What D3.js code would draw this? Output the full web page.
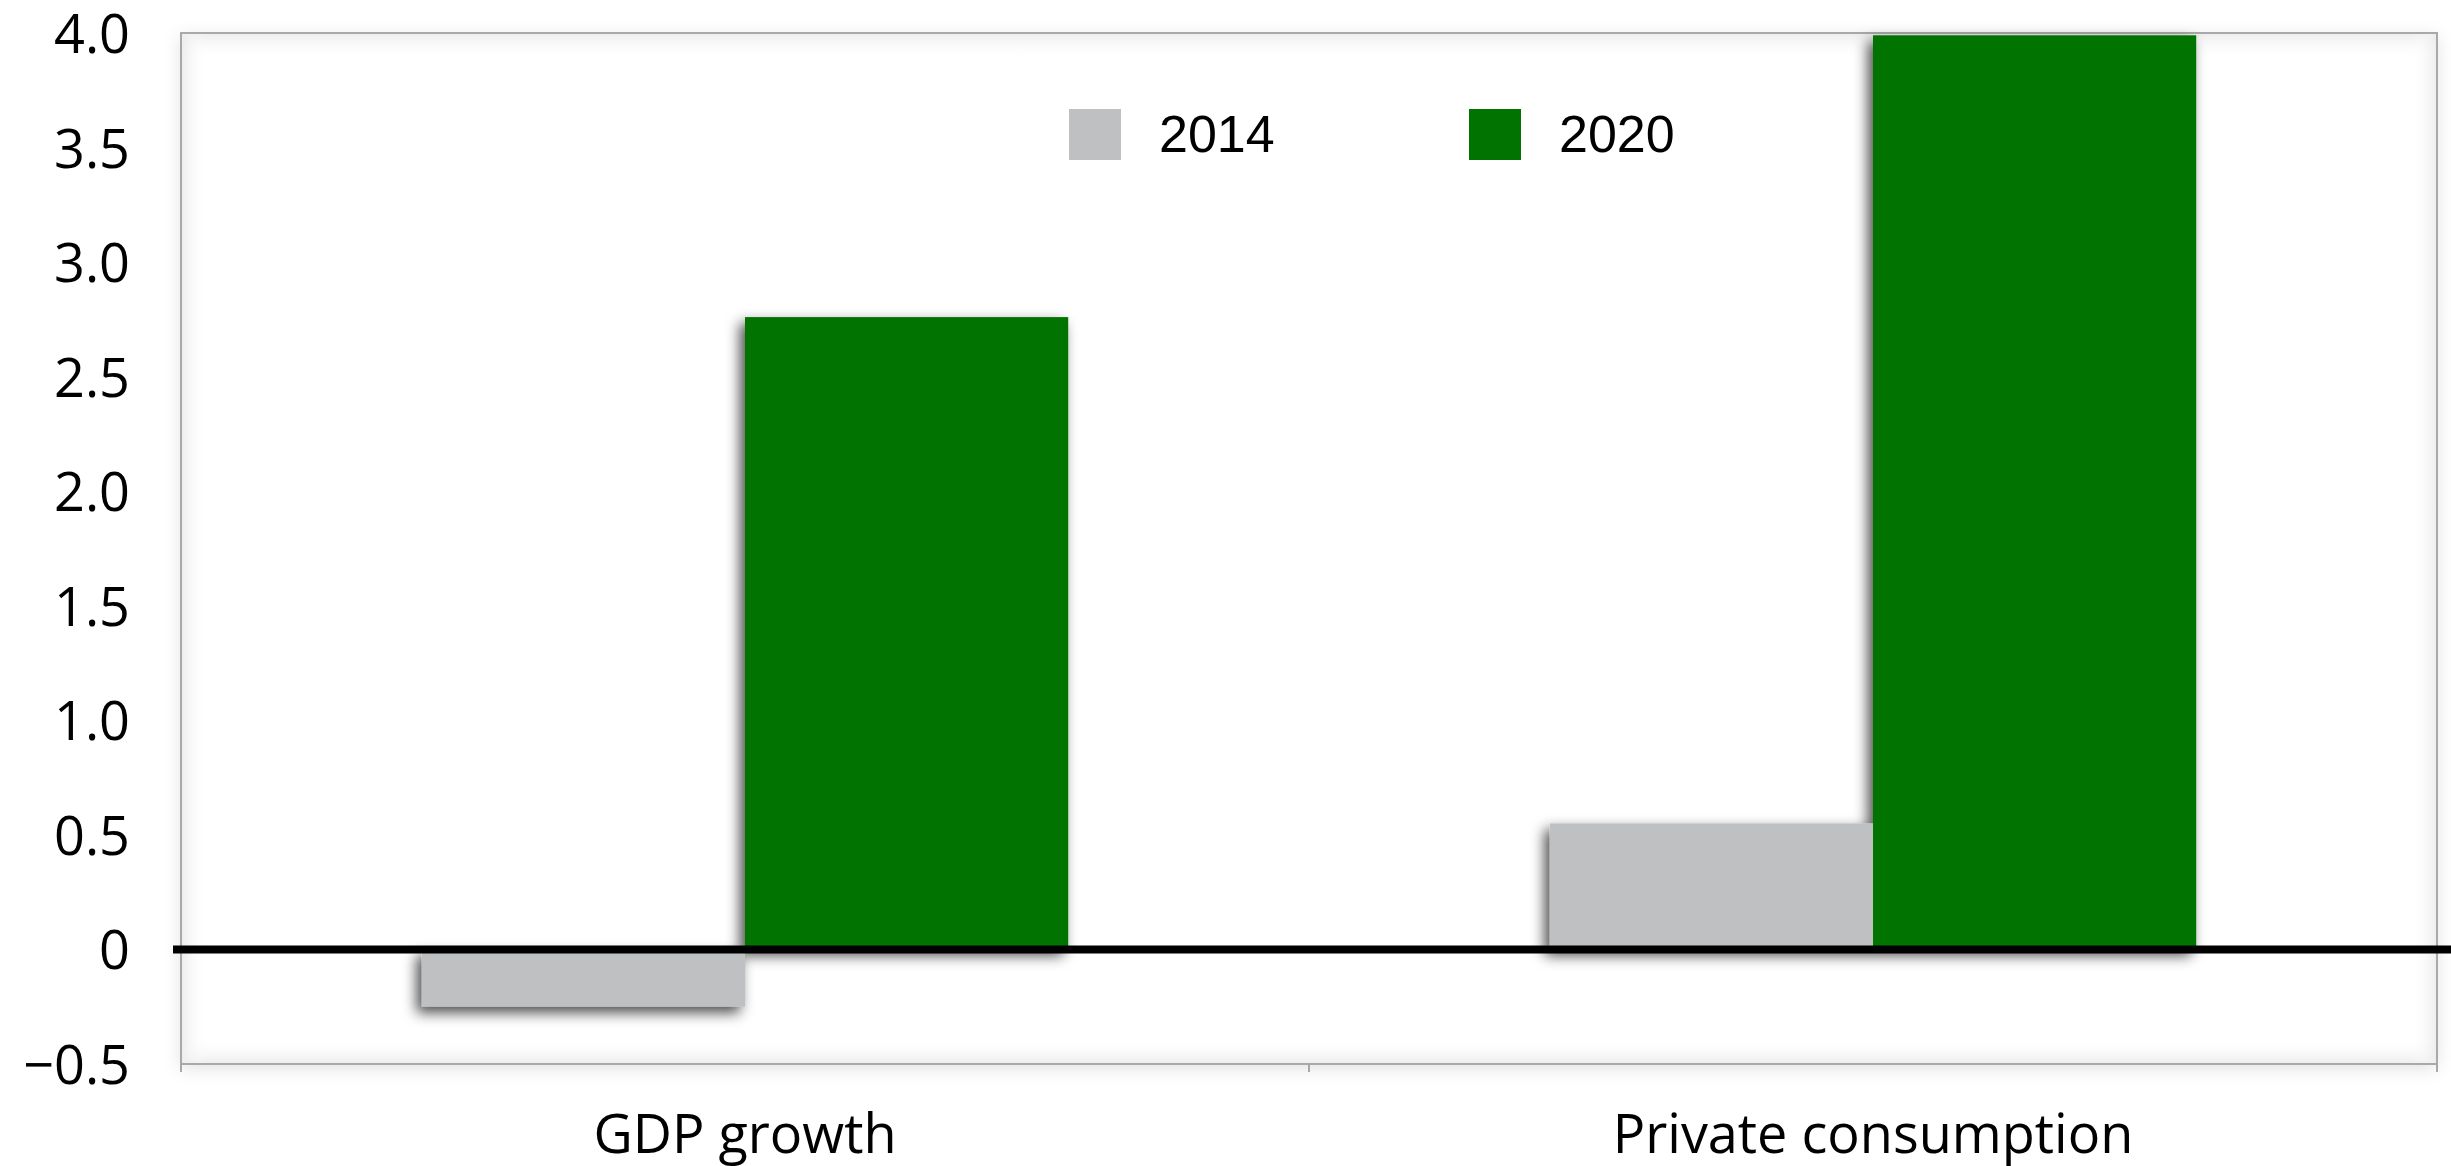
<!DOCTYPE html>
<html>
<head>
<meta charset="utf-8">
<script src="https://cdn.jsdelivr.net/npm/d3@7"></script>
<style>
  html, body { margin: 0; padding: 0; background: #ffffff; }
  svg { display: block; }
</style>
</head>
<body>
<svg id="chart" width="2451" height="1166"></svg>
<script>
// Growth figures, per cent
const categories = ["GDP growth", "Private consumption"];
const years = ["2014", "2020"];
const values2014 = [-0.25, 0.55];
const values2020 = [2.76, 3.99];
const yTicks = [-0.5, 0, 0.5, 1.0, 1.5, 2.0, 2.5, 3.0, 3.5, 4.0];
const yTickLabels = ["\u22120.5", "0", "0.5", "1.0", "1.5", "2.0", "2.5", "3.0", "3.5", "4.0"];

const seriesValues = { "2014": values2014, "2020": values2020 };
const colors = { "2014": "#bfc0c2", "2020": "#007300" };

const frame = { left: 181, right: 2437, top: 33, bottom: 1064 };

const svg = d3.select("#chart");
const defs = svg.append("defs");

// soft drop shadow under the bars
const barShadow = defs.append("filter").attr("id", "barShadow")
  .attr("x", "-20%").attr("y", "-20%").attr("width", "140%").attr("height", "140%");
barShadow.append("feDropShadow")
  .attr("dx", -5).attr("dy", 6).attr("stdDeviation", 7)
  .attr("flood-color", "#000").attr("flood-opacity", 0.7);

// faint shadow around the plot frame
const frameShadow = defs.append("filter").attr("id", "frameShadow")
  .attr("x", "-5%").attr("y", "-10%").attr("width", "110%").attr("height", "120%");
frameShadow.append("feDropShadow")
  .attr("dx", 0).attr("dy", 4).attr("stdDeviation", 9)
  .attr("flood-color", "#000").attr("flood-opacity", 0.12);

// inner shading gradients along the frame edges
function edgeGradient(id, x1, y1, x2, y2) {
  const g = defs.append("linearGradient").attr("id", id)
    .attr("x1", x1).attr("y1", y1).attr("x2", x2).attr("y2", y2);
  g.append("stop").attr("offset", "0%").attr("stop-color", "#ececec");
  g.append("stop").attr("offset", "100%").attr("stop-color", "#ffffff").attr("stop-opacity", 0);
}
edgeGradient("gTop", 0, 0, 0, 1);
edgeGradient("gBottom", 0, 1, 0, 0);
edgeGradient("gLeft", 0, 0, 1, 0);
edgeGradient("gRight", 1, 0, 0, 0);

// scales
const y = d3.scaleLinear().domain([-0.5, 4.0]).range([frame.bottom, frame.top]);
const x0 = d3.scaleBand().domain(categories).range([frame.left, frame.right]).padding(0);
const x1 = d3.scaleBand().domain(years).range([0, x0.bandwidth()])
  .paddingInner(0).paddingOuter(0.745);

// plot frame
const fw = frame.right - frame.left, fh = frame.bottom - frame.top;
svg.append("rect")
  .attr("x", frame.left).attr("y", frame.top).attr("width", fw).attr("height", fh)
  .attr("fill", "#ffffff").attr("filter", "url(#frameShadow)");
const shade = 26;
svg.append("rect").attr("x", frame.left).attr("y", frame.top).attr("width", fw).attr("height", shade).attr("fill", "url(#gTop)");
svg.append("rect").attr("x", frame.left).attr("y", frame.bottom - shade).attr("width", fw).attr("height", shade).attr("fill", "url(#gBottom)");
svg.append("rect").attr("x", frame.left).attr("y", frame.top).attr("width", shade).attr("height", fh).attr("fill", "url(#gLeft)");
svg.append("rect").attr("x", frame.right - shade).attr("y", frame.top).attr("width", shade).attr("height", fh).attr("fill", "url(#gRight)");
svg.append("rect")
  .attr("x", frame.left).attr("y", frame.top).attr("width", fw).attr("height", fh)
  .attr("fill", "none").attr("stroke", "#a9a9a9").attr("stroke-width", 2);

// category tick marks under the frame
const xTickPos = [frame.left, frame.left + x0.step(), frame.right];
svg.append("g").selectAll("line").data(xTickPos).join("line")
  .attr("x1", d => d).attr("x2", d => d)
  .attr("y1", frame.bottom).attr("y2", frame.bottom + 8)
  .attr("stroke", "#a9a9a9").attr("stroke-width", 2);

// bars
const barsG = svg.append("g").attr("filter", "url(#barShadow)");
const groups = barsG.selectAll("g.cat").data(categories).join("g")
  .attr("class", "cat")
  .attr("transform", d => `translate(${x0(d)},0)`);
groups.selectAll("rect").data((c, i) => years.map(yr => ({ yr, v: seriesValues[yr][i] })))
  .join("rect")
  .attr("x", d => x1(d.yr))
  .attr("width", x1.bandwidth())
  .attr("y", d => y(Math.max(0, d.v)))
  .attr("height", d => Math.abs(y(d.v) - y(0)))
  .attr("fill", d => colors[d.yr]);

// zero line
svg.append("line")
  .attr("x1", frame.left - 8).attr("x2", 2451)
  .attr("y1", y(0)).attr("y2", y(0))
  .attr("stroke", "#000").attr("stroke-width", 8);

// y axis labels
const yAxis = d3.axisLeft(y).tickValues(yTicks).tickSize(0).tickPadding(0)
  .tickFormat((d, i) => yTickLabels[i]);
const yAxisG = svg.append("g").attr("transform", "translate(130,0)").call(yAxis);
yAxisG.select(".domain").remove();
yAxisG.selectAll("text")
  .attr("font-family", "'Open Sans', sans-serif")
  .attr("font-size", 54)
  .attr("fill", "#000")
  .attr("dy", "0.36em");

// category labels
const xAxis = d3.axisBottom(x0).tickSize(0).tickPadding(0);
const xAxisG = svg.append("g").attr("transform", "translate(0,1153)").call(xAxis);
xAxisG.select(".domain").remove();
xAxisG.selectAll("text")
  .attr("font-family", "'Open Sans', sans-serif")
  .attr("font-size", 54)
  .attr("fill", "#000")
  .attr("dy", 0);

// legend
const legendX = { "2014": 1069, "2020": 1469 };
const legend = svg.append("g");
years.forEach(yr => {
  legend.append("rect")
    .attr("x", legendX[yr]).attr("y", 109).attr("width", 52).attr("height", 51)
    .attr("fill", colors[yr]);
  legend.append("text")
    .attr("x", legendX[yr] + 90).attr("y", 152)
    .attr("font-family", "'Liberation Sans', Arial, sans-serif")
    .attr("font-size", 52)
    .attr("fill", "#000")
    .text(yr);
});
</script>
</body>
</html>
